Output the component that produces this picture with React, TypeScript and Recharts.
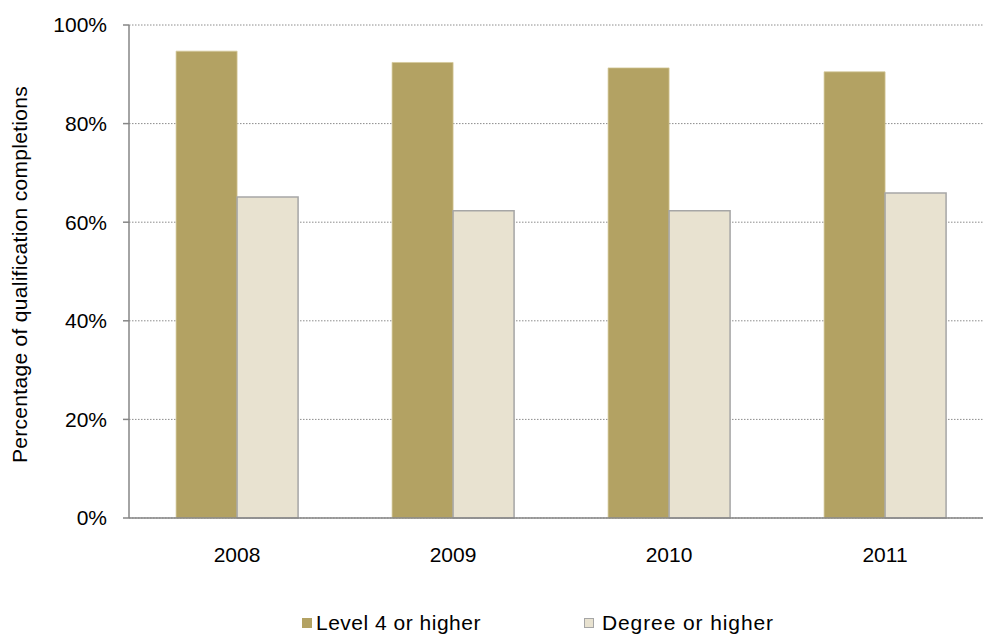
import React from 'react';
import { BarChart, Bar, XAxis, YAxis, CartesianGrid, Legend } from 'recharts';

const years = ['2008', '2009', '2010', '2011'];
const level4OrHigher = [94.7, 92.4, 91.3, 90.5];
const degreeOrHigher = [65.1, 62.3, 62.3, 65.9];
const percentTicks = [0, 20, 40, 60, 80, 100];
const edgeTicks = [0, 1, 2, 3, 4];

const data = years.map((year, i) => ({
  year,
  level4: level4OrHigher[i],
  degree: degreeOrHigher[i],
}));

const FONT = '"Liberation Sans", Arial, sans-serif';
const AXIS_GREY = '#868686';
const GOLD = '#B3A263';
const CREAM = '#E8E2D0';

// Excel-style legend: gold square, then outlined cream square
const LegendContent = () => (
  <div style={{ display: 'flex', alignItems: 'center', height: 24, paddingLeft: 302, fontFamily: FONT, fontSize: 21, color: '#000' }}>
    <span style={{ width: 10, height: 10, background: GOLD, display: 'inline-block' }} />
    <span style={{ marginLeft: 4, letterSpacing: 0.5 }}>Level 4 or higher</span>
    <span style={{ width: 8, height: 8, background: CREAM, border: '1px solid #A6A6A6', display: 'inline-block', marginLeft: 103 }} />
    <span style={{ marginLeft: 8, letterSpacing: 0.9 }}>Degree or higher</span>
  </div>
);

const App: React.FC = () => {
  return (
    <div style={{ position: 'fixed', left: 0, top: 0, width: 983, height: 635, overflow: 'hidden', background: '#fff' }}>
      <BarChart
        width={1000}
        height={635}
        data={data}
        margin={{ top: 25, right: 7, left: 0, bottom: 33 }}
        barCategoryGap="21.8%"
        barGap={0}
      >
        <CartesianGrid vertical={false} stroke="#8c8c8c" strokeDasharray="1.5 1.5" />
        {/* tick marks sit between the categories, so they get their own numeric axis */}
        <XAxis
          xAxisId="edge"
          type="number"
          domain={[0, 4]}
          ticks={edgeTicks}
          allowDataOverflow
          height={0}
          axisLine={false}
          tickLine={{ stroke: AXIS_GREY, strokeWidth: 1.5 }}
          tickSize={6}
          tickFormatter={() => ''}
        />
        <XAxis
          xAxisId="cat"
          dataKey="year"
          height={60}
          axisLine={{ stroke: AXIS_GREY, strokeWidth: 1.5 }}
          tickLine={false}
          tickSize={0}
          tickMargin={29}
          tick={{ fill: '#000', fontSize: 21, fontFamily: FONT }}
        />
        <YAxis
          width={129}
          domain={[0, 100]}
          ticks={percentTicks}
          tickFormatter={(v) => `${v}%`}
          axisLine={{ stroke: AXIS_GREY, strokeWidth: 1.5 }}
          tickLine={{ stroke: AXIS_GREY, strokeWidth: 1.5 }}
          tickSize={6}
          tickMargin={16}
          tick={{ fill: '#000', fontSize: 21, fontFamily: FONT }}
          label={{
            value: 'Percentage of qualification completions',
            angle: -90,
            position: 'center',
            dx: -45,
            dy: 3,
            style: { fill: '#000', fontSize: 21, fontFamily: FONT, letterSpacing: 0.3 },
          }}
        />
        <Legend verticalAlign="bottom" content={<LegendContent />} wrapperStyle={{ left: 0, width: 1000, bottom: 0 }} />
        <Bar xAxisId="cat" dataKey="level4" name="Level 4 or higher" fill={GOLD} stroke="#D4C89A" strokeWidth={0.75} isAnimationActive={false} />
        <Bar
          xAxisId="cat"
          dataKey="degree"
          name="Degree or higher"
          fill={CREAM}
          stroke="#A6A6A6"
          strokeWidth={1.5}
          isAnimationActive={false}
        />
      </BarChart>
    </div>
  );
};

export default App;
